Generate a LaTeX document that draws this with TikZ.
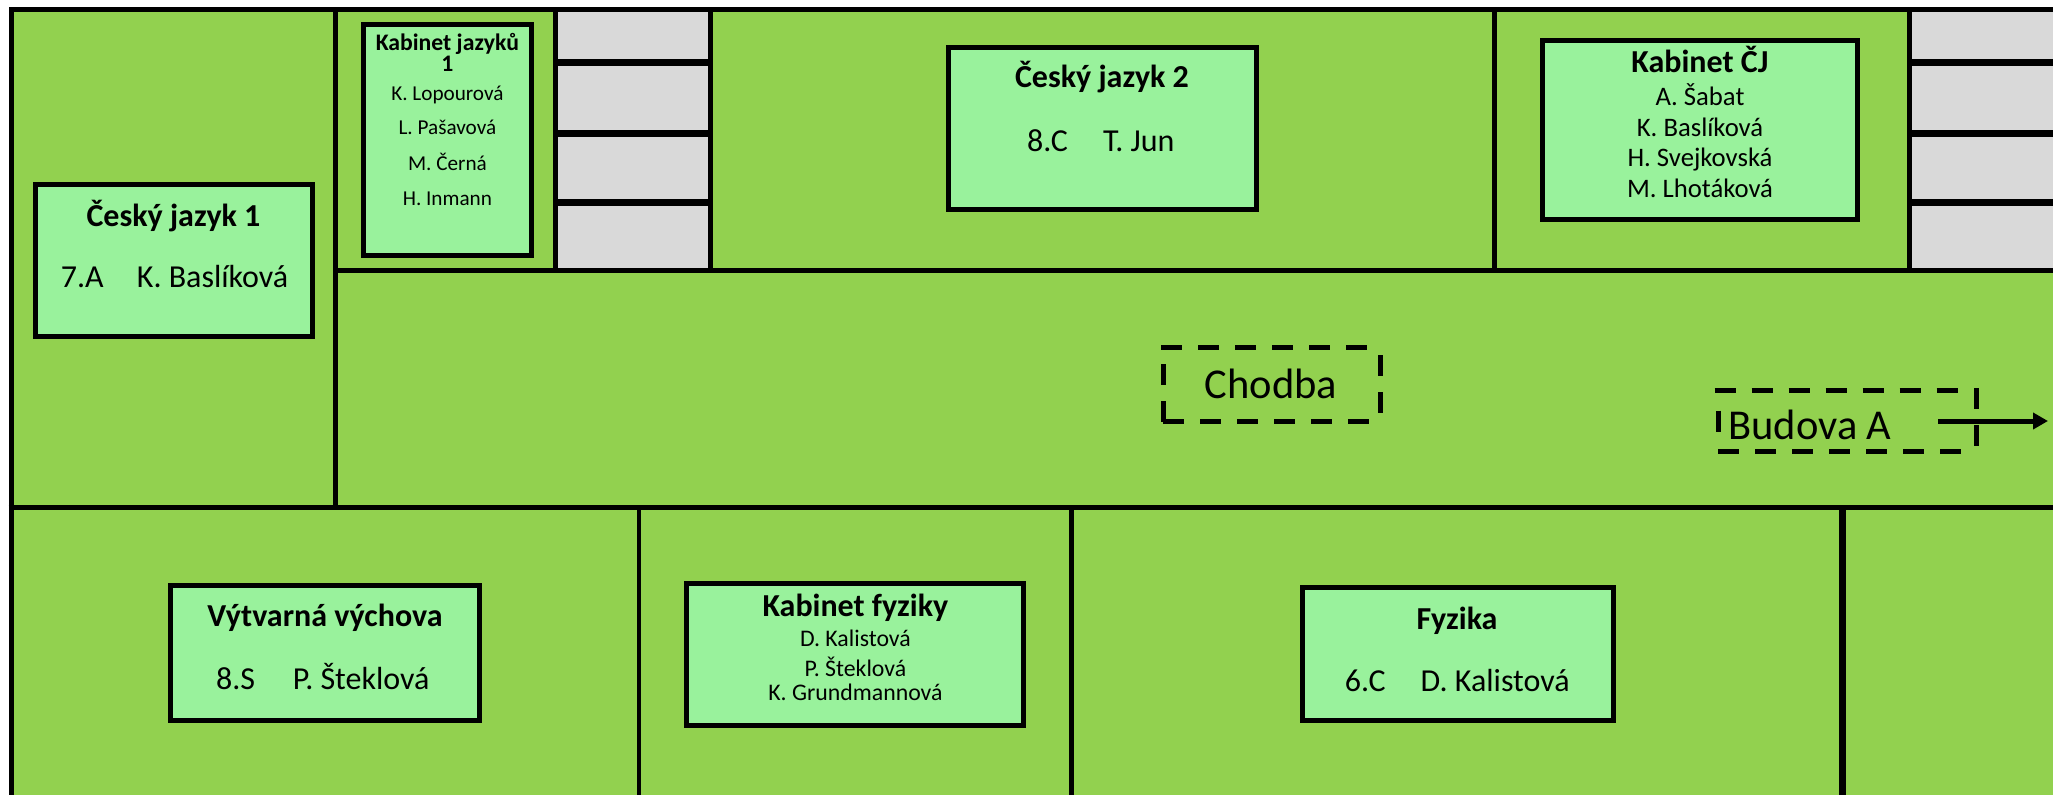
\documentclass[tikz,border=0pt]{standalone}
\usepackage{fontspec}
\setmainfont{Carlito}
\usetikzlibrary{arrows.meta}
\definecolor{roomgreen}{HTML}{92D14F}
\definecolor{boxgreen}{HTML}{99F29C}
\definecolor{stairgrey}{HTML}{D9D9D9}
\tikzset{
  wall/.style={draw=black,line width=5pt},
  thinwall/.style={draw=black,line width=4pt},
  stairline/.style={draw=black,line width=6.5pt},
  roombox/.style={draw=black,fill=boxgreen,line width=5pt},
  dashline/.style={draw=black,line width=5pt,dash pattern=on 21pt off 16pt},
  txt/.style={inner sep=0pt,text=black,anchor=base},
  big/.style={txt,font=\fontsize{32}{32}\selectfont\bfseries},
  mid/.style={txt,anchor=base west,font=\fontsize{32}{32}\selectfont},
  cj/.style={txt,font=\fontsize{26.7}{26.7}\selectfont},
  small/.style={txt,font=\fontsize{21.2}{21.2}\selectfont},
  smallb/.style={txt,font=\fontsize{23.7}{23.7}\selectfont\bfseries},
  fyz/.style={txt,font=\fontsize{23.8}{23.8}\selectfont},
  huge/.style={txt,font=\fontsize{42.5}{42.5}\selectfont},
}
\begin{document}
\begin{tikzpicture}[x=1pt,y=-1pt]
\useasboundingbox (0,0) rectangle (2053,795);
% background
\fill[white] (0,0) rectangle (2053,795);
\fill[roomgreen] (11,9) rectangle (2053,795);
% stairs
\fill[stairgrey] (555,9) rectangle (710.6,270);
\fill[stairgrey] (1909,9) rectangle (2053,270);
\foreach \yy in {62.7,133.3,202.3}{
  \draw[stairline] (555,\yy) -- (710.6,\yy);
  \draw[stairline] (1909,\yy) -- (2053,\yy);
}
% walls
\draw[wall] (2053,9.2) -- (11,9.2) -- (11,795);
\draw[wall] (335,9) -- (335,508);
\draw[wall] (335,270) -- (2053,270);
\draw[wall] (8.5,507.8) -- (2053,507.8);
\draw[wall] (555,9) -- (555,270);
\draw[wall] (710.6,9) -- (710.6,270);
\draw[wall] (1494,9) -- (1494,270);
\draw[wall] (1909,9) -- (1909,270);
\draw[thinwall] (639.3,508) -- (639.3,795);
\draw[wall] (1071,508) -- (1071,795);
\draw[line width=7pt] (1842,505) -- (1842,795);
% boxes
\draw[roombox] (35.5,184.5) rectangle (312.5,336.5);
\draw[roombox] (363.5,24.5) rectangle (531.5,255.5);
\draw[roombox] (948,47.2) rectangle (1256.5,209.5);
\draw[roombox] (1542.9,40.8) rectangle (1857.5,219.8);
\draw[roombox] (170.9,585.5) rectangle (479.5,720.8);
\draw[roombox] (686.5,583.5) rectangle (1023.5,725.5);
\draw[roombox] (1302.5,587.5) rectangle (1613.5,720.8);
% dashed
\draw[dashline] (1161.4,347) -- (1372,347);
\draw[dashline] (1163.3,421) -- (1372,421);
\draw[dashline] (1163.3,421.7) -- (1163.3,347);
\draw[dashline] (1380,355) -- (1380,413);
\draw[dashline] (1714.5,390.7) -- (1960,390.7);
\draw[dashline] (1718,451) -- (1963.5,451);
\draw[dashline] (1718,410.7) -- (1718,432.3);
\draw[dashline] (1976.5,388.3) -- (1976.5,448.3);
% texts
\node[big] (t1) at (173.5,226) {Český jazyk 1};
\node[mid] (t1a) at (60.6,287.3) {7.A};
\node[mid] (t1b) at (136.7,287.3) {K. Baslíková};
\node[smallb] (t2) at (447.4,50.7) {Kabinet jazyků};
\node[smallb] (t2n) at (447.4,71) {1};
\node[small] (t2a) at (447.4,100) {K. Lopourová};
\node[small] (t2b) at (447.4,134.3) {L. Pašavová};
\node[small] (t2c) at (447.4,170) {M. Černá};
\node[small] (t2d) at (447.4,205.3) {H. Inmann};
\node[big] (t3) at (1102,87.7) {Český jazyk 2};
\node[mid] (t3a) at (1027,151) {8.C};
\node[mid] (t3b) at (1102.8,151) {T. Jun};
\node[big] (t4) at (1700,72.7) {Kabinet ČJ};
\node[cj] (t4a) at (1700,105) {A. Šabat};
\node[cj] (t4b) at (1700,136) {K. Baslíková};
\node[cj] (t4c) at (1700,166) {H. Svejkovská};
\node[cj] (t4d) at (1700,197) {M. Lhotáková};
\node[big] (t5) at (325,626.7) {Výtvarná výchova};
\node[mid] (t5a) at (216,689) {8.S};
\node[mid] (t5b) at (292.6,689) {P. Šteklová};
\node[big] (t6) at (855.4,616) {Kabinet fyziky};
\node[fyz] (t6a) at (855.4,646.7) {D. Kalistová};
\node[fyz] (t6b) at (855.4,676.7) {P. Šteklová};
\node[fyz] (t6c) at (855.4,700) {K. Grundmannová};
\node[big] (t7) at (1457,629) {Fyzika};
\node[mid] (t7a) at (1344.7,691) {6.C};
\node[mid] (t7b) at (1420.5,691) {D. Kalistová};
\node[huge] (chodba) at (1271,398.3) {Chodba};
\node[huge] (budova) at (1810,439.3) {Budova A};
% arrow
\coordinate (arrowstart) at (1938,421);
\coordinate (arrowend) at (2048,421);
\draw[line width=5pt,-{Triangle[length=15pt,width=16pt]}] (arrowstart) -- (arrowend);
\end{tikzpicture}
\end{document}
